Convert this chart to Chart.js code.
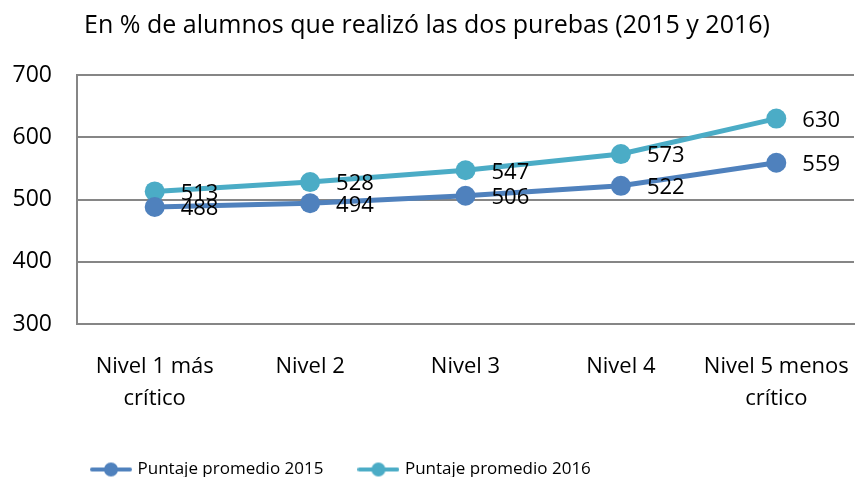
<!DOCTYPE html>
<html>
<head>
<meta charset="utf-8">
<script src="https://cdn.jsdelivr.net/npm/chart.js@4"></script>
<style>
  html, body { margin: 0; padding: 0; background: #fff; }
  #wrap { width: 857px; height: 477px; }
</style>
</head>
<body>
<div id="wrap"><canvas id="chart" width="857" height="477"></canvas></div>
<script>
// datos
const niveles = [['Nivel 1 más', 'crítico'], 'Nivel 2', 'Nivel 3', 'Nivel 4', ['Nivel 5 menos', 'crítico']];
const puntaje2015 = [488, 494, 506, 522, 559];
const puntaje2016 = [513, 528, 547, 573, 630];
const serieNombres = ['Puntaje promedio 2015', 'Puntaje promedio 2016'];
const colores = ['#4F81BD', '#4BACC6'];

const FONT = '"Open Sans", sans-serif';

// icono de leyenda: línea con marcador
function legendIcon(color) {
    const c = document.createElement('canvas');
    c.width = 42; c.height = 16;
    const g = c.getContext('2d');
    g.strokeStyle = color;
    g.lineWidth = 4;
    g.lineCap = 'round';
    g.beginPath();
    g.moveTo(2, 8); g.lineTo(40, 8);
    g.stroke();
    g.fillStyle = color;
    g.beginPath();
    g.arc(21, 8, 7, 0, Math.PI * 2);
    g.fill();
    return c;
}

// etiquetas de valores a la derecha de cada punto
const valueLabels = {
    id: 'valueLabels',
    afterDatasetsDraw(chart) {
        const ctx = chart.ctx;
        ctx.save();
        ctx.font = '22px ' + FONT;
        ctx.fillStyle = '#000';
        ctx.textAlign = 'left';
        ctx.textBaseline = 'middle';
        chart.data.datasets.forEach((ds, i) => {
            chart.getDatasetMeta(i).data.forEach((pt, j) => {
                ctx.fillText(ds.data[j], pt.x + 26, pt.y + 2);
            });
        });
        ctx.restore();
    }
};

// la leyenda de Excel queda corrida a la izquierda y más abajo
const legendShift = {
    id: 'legendShift',
    afterLayout(chart) {
        const lg = chart.legend;
        lg.left += 56;
        lg.right += 56;
        lg.top += 11;
        lg.bottom += 11;
    }
};

new Chart(document.getElementById('chart'), {
    type: 'line',
    data: {
        labels: niveles,
        datasets: [0, 1].map(i => ({
            label: serieNombres[i],
            data: i === 0 ? puntaje2015 : puntaje2016,
            borderColor: colores[i],
            backgroundColor: colores[i],
            borderWidth: 5,
            pointRadius: 10,
            pointHoverRadius: 10,
            pointBorderWidth: 0,
            tension: 0
        }))
    },
    options: {
        responsive: false,
        animation: false,
        layout: { autoPadding: false, padding: { left: 0, right: 3, top: 0, bottom: 0 } },
        plugins: {
            title: {
                display: true,
                text: 'En % de alumnos que realizó las dos purebas (2015 y 2016)',
                color: '#000',
                font: { family: FONT, size: 25, weight: 'normal' },
                padding: { top: 11, bottom: 34 }
            },
            legend: {
                position: 'bottom',
                align: 'start',
                labels: {
                    color: '#000',
                    font: { family: FONT, size: 17 },
                    usePointStyle: true,
                    pointStyleWidth: 36,
                    padding: 37,
                    generateLabels(chart) {
                        return chart.data.datasets.map((ds, i) => ({
                            text: ds.label,
                            fontColor: '#000',
                            pointStyle: legendIcon(colores[i]),
                            lineWidth: 0,
                            strokeStyle: 'transparent',
                            fillStyle: 'transparent',
                            datasetIndex: i
                        }));
                    }
                }
            },
            tooltip: { enabled: false }
        },
        scales: {
            x: {
                offset: true,
                grid: { display: false, drawTicks: false },
                border: { color: '#868686', width: 2 },
                ticks: {
                    color: '#000',
                    font: { family: FONT, size: 22, lineHeight: 1.45 },
                    padding: 27,
                    maxRotation: 0,
                    autoSkip: false
                },
                afterFit(s) {
                    s.height = 89;
                    s.paddingLeft = 0;
                    s.paddingRight = 0;
                }
            },
            y: {
                min: 300,
                max: 700,
                grid: { color: '#868686', lineWidth: 2, drawTicks: false },
                border: { color: '#868686', width: 2 },
                ticks: {
                    stepSize: 100,
                    color: '#000',
                    font: { family: FONT, size: 23 },
                    padding: 25
                },
                afterFit(s) { s.width = 77; }
            }
        }
    },
    plugins: [valueLabels, legendShift]
});
</script>
</body>
</html>
